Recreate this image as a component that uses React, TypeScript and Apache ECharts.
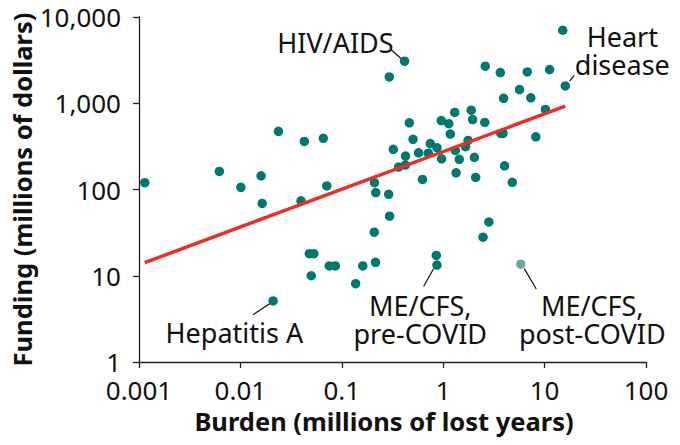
import React, { useEffect, useRef } from "react";
import * as echarts from "echarts";

// Burden (millions of lost years) and funding (millions of dollars) per disease
const burden = [
  0.00114, 0.0062, 0.0101, 0.016, 0.0164, 0.0237, 0.0427, 0.0657, 0.0711, 0.0396,
  0.0478, 0.053, 0.05, 0.021, 0.0753, 0.0863, 0.137, 0.161, 0.215, 0.209,
  0.296, 0.21, 0.216, 0.29, 0.322, 0.363, 0.423, 0.425, 0.463, 0.504,
  0.572, 0.625, 0.713, 0.746, 0.868, 0.958, 0.964, 1.135, 1.175, 1.3,
  1.316, 1.34, 1.44, 1.66, 1.76, 1.89, 1.95, 2.03, 2.09, 2.57,
  2.6, 2.82, 2.47, 3.66, 3.7, 3.89, 3.94, 4.03, 4.8, 5.66,
  6.75, 7.31, 8.19, 10.2, 11.2, 15.1, 16.0, 0.416, 0.294, 0.855, 0.868,
];
const funding = [
  120, 162, 106, 144, 69, 473, 361, 392, 110, 74,
  18, 18, 10, 5.1, 13, 13, 8.1, 13, 14.3, 32,
  49, 120, 92, 88, 292, 182, 192, 244, 593, 382,
  266, 131, 264, 341, 305, 629, 227, 580, 439, 783,
  284, 156, 224, 313, 371, 832, 646, 236, 138, 600,
  2690, 42, 28, 2270, 447, 447, 1140, 188, 121, 1440,
  2310, 1155, 408, 848, 2460, 7020, 1590, 3070, 2020, 17.2, 13.3,
];
const postCovidBurden = [5.82];
const postCovidFunding = [13.6];
const trendBurden = [0.00114, 16.0];
const trendFunding = [14.2, 925];

const xTickLabels = ["0.001", "0.01", "0.1", "1", "10", "100"];
const yTickLabels = ["1", "10", "100", "1,000", "10,000"];

const xTitle = "Burden (millions of lost years)";
const yTitle = "Funding (millions of dollars)";

const annotations = [
  { text: "HIV/AIDS", bx: 0.416, fy: 3070, tx: -11, ty: -19, align: "right", l1: [-3.6, -2.7], l2: [-14, -12] },
  { text: "Heart\ndisease", bx: 16.0, fy: 1590, tx: 57, ty: -35, align: "center", l1: [4.3, -4.7], l2: [9, -10.4] },
  { text: "Hepatitis A", bx: 0.021, fy: 5.1, tx: -38.7, ty: 31.7, align: "center", l1: [-3.4, 2.7], l2: [-20, 13.7] },
  { text: "ME/CFS,\npre-COVID", bx: 0.868, fy: 13.3, tx: -16.7, ty: 54.7, align: "center", l1: [-3.4, 3.7], l2: [-13.4, 21.4] },
  { text: "ME/CFS,\npost-COVID", bx: 5.82, fy: 13.6, tx: 71.5, ty: 55.7, align: "center", l1: [3.5, 4.4], l2: [15.5, 24.7] },
];

const FONT = "'Noto Sans', sans-serif";
const TEAL = "#00786f";
const AXIS = "#231f20";

function fmt(v: number, labels: string[], minExp: number) {
  const i = Math.round(Math.log10(v)) - minExp;
  return labels[i] ?? "";
}

export default function App() {
  const ref = useRef<HTMLDivElement>(null);
  useEffect(() => {
    if (!ref.current) return;
    const chart = echarts.init(ref.current, undefined, { renderer: "svg" });
    const main = burden.map((b, i) => [b, funding[i]]);
    const post = postCovidBurden.map((b, i) => [b, postCovidFunding[i]]);
    const trend = trendBurden.map((b, i) => [b, trendFunding[i]]);
    chart.setOption({
      animation: false,
      grid: { left: 139, right: 34, top: 17, bottom: 83, containLabel: false },
      xAxis: {
        type: "log",
        logBase: 10,
        min: 0.001,
        max: 100,
        axisLine: { show: true, lineStyle: { color: AXIS, width: 1.3 } },
        axisTick: { show: true, length: 6, lineStyle: { color: AXIS, width: 1.3 } },
        splitLine: { show: false },
        minorTick: { show: false },
        axisLabel: {
          margin: 15,
          fontFamily: FONT,
          fontSize: 26,
          color: "#111",
          formatter: (v: number) => fmt(v, xTickLabels, -3),
        },
      },
      yAxis: {
        type: "log",
        logBase: 10,
        min: 1,
        max: 10000,
        axisLine: { show: true, lineStyle: { color: AXIS, width: 1.3 } },
        axisTick: { show: true, length: 6, lineStyle: { color: AXIS, width: 1.3 } },
        splitLine: { show: false },
        axisLabel: {
          margin: 18,
          fontFamily: FONT,
          fontSize: 26,
          color: "#111",
          formatter: (v: number) => fmt(v, yTickLabels, 0),
        },
      },
      series: [
        {
          type: "scatter",
          data: main,
          symbolSize: 9.5,
          itemStyle: { color: TEAL, opacity: 1 },
          z: 2,
        },
        {
          type: "scatter",
          data: post,
          symbolSize: 9.5,
          itemStyle: { color: "#6fa8a3", opacity: 1 },
          z: 2,
        },
        {
          type: "line",
          data: trend,
          symbol: "none",
          lineStyle: { color: "#ee2e24", width: 3.5 },
          z: 3,
        },
      ],
    });

    const graphics: any[] = [];
    annotations.forEach((a) => {
      const p = chart.convertToPixel({ xAxisIndex: 0, yAxisIndex: 0 }, [a.bx, a.fy]) as number[];
      graphics.push({
        type: "line",
        shape: { x1: p[0] + a.l1[0], y1: p[1] + a.l1[1], x2: p[0] + a.l2[0], y2: p[1] + a.l2[1] },
        style: { stroke: "#111", lineWidth: 1.2 },
        z: 10,
      });
      graphics.push({
        type: "text",
        x: p[0] + a.tx,
        y: p[1] + a.ty,
        style: {
          text: a.text,
          fill: "#111",
          fontFamily: FONT,
          fontSize: 27,
          lineHeight: 28,
          align: a.align,
          verticalAlign: "middle",
        },
        z: 10,
      });
    });
    graphics.push({
      type: "text",
      x: 384,
      y: 421,
      style: {
        text: xTitle,
        fill: "#111",
        fontFamily: FONT,
        fontSize: 25.5,
        fontWeight: "bold",
        align: "center",
        verticalAlign: "middle",
      },
    });
    graphics.push({
      type: "text",
      x: 22,
      y: 189.5,
      rotation: Math.PI / 2,
      style: {
        text: yTitle,
        fill: "#111",
        fontFamily: FONT,
        fontSize: 25.5,
        fontWeight: "bold",
        align: "center",
        verticalAlign: "middle",
      },
    });
    chart.setOption({ graphic: graphics });

    return () => chart.dispose();
  }, []);
  return <div ref={ref} style={{ position: "absolute", left: 0, top: 0, width: 680, height: 445 }} />;
}
